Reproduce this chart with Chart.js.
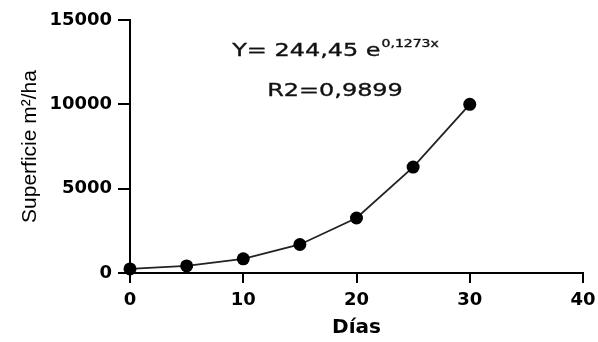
<!DOCTYPE html>
<html>
<head>
<meta charset="utf-8">
<script src="https://cdn.jsdelivr.net/npm/chart.js@4/dist/chart.umd.min.js"></script>
<style>
  html, body { margin: 0; padding: 0; background: #fff; }
  #wrap { width: 598px; height: 342px; }
</style>
</head>
<body>
<div id="wrap"><canvas id="c" width="598" height="342"></canvas></div>
<script>
// Growth of the surface (m²/ha) over days
const dias = [0, 5, 10, 15, 20, 25, 30];
const superficie = [240, 420, 840, 1690, 3260, 6280, 10000];
const xTicks = [0, 10, 20, 30, 40];
const yTicks = [0, 5000, 10000, 15000];
const ecuacion = 'Y= 244,45 e';
const exponente = '0,1273x';
const r2Texto = 'R2=0,9899';

const points = dias.map((d, i) => ({ x: d, y: superficie[i] }));

// Writes a horizontally widened line of text, with a light outline for weight
function wideText(ctx, text, x, y, font, sx) {
  ctx.save();
  ctx.translate(x, y);
  ctx.scale(sx, 1);
  ctx.font = font;
  ctx.fillText(text, 0, 0);
  ctx.strokeText(text, 0, 0);
  ctx.restore();
}

// Fitted-equation annotation in the upper part of the plot
const annotation = {
  id: 'annotation',
  afterDraw(chart) {
    const { ctx, chartArea } = chart;
    const cx = chartArea.left + (chartArea.right - chartArea.left) * 0.4525;
    const sx = 1.33;
    const mainFont = '18px "DejaVu Sans"';
    const supFont = '10px "DejaVu Sans"';
    ctx.save();
    ctx.fillStyle = '#111';
    ctx.strokeStyle = '#111';
    ctx.lineWidth = 0.35;
    ctx.textBaseline = 'alphabetic';
    ctx.textAlign = 'left';

    ctx.font = mainFont;
    const wMain = ctx.measureText(ecuacion).width * sx;
    ctx.font = supFont;
    const wExp = ctx.measureText(exponente).width * 1.4;
    const startX = cx - (wMain + wExp) / 2;

    wideText(ctx, ecuacion, startX, 56, mainFont, sx);
    wideText(ctx, exponente, startX + wMain + 1, 47, supFont, 1.4);

    ctx.font = mainFont;
    const wR2 = ctx.measureText(r2Texto).width * sx;
    wideText(ctx, r2Texto, cx - wR2 / 2, 96, mainFont, sx);

    ctx.restore();
  }
};

new Chart(document.getElementById('c'), {
  type: 'line',
  data: {
    datasets: [{
      data: points,
      borderColor: '#222',
      borderWidth: 1.8,
      pointRadius: 6.5,
      pointHoverRadius: 6.5,
      pointBackgroundColor: '#000',
      pointBorderColor: '#000',
      pointBorderWidth: 0,
      tension: 0,
      clip: false
    }]
  },
  options: {
    responsive: false,
    animation: false,
    layout: { padding: { top: 20, right: 0, left: 0, bottom: 0 } },
    plugins: { legend: { display: false }, tooltip: { enabled: false } },
    scales: {
      x: {
        type: 'linear',
        min: xTicks[0],
        max: xTicks[xTicks.length - 1],
        afterFit(scale) { scale.height = 69; scale.paddingRight = 15; },
        afterBuildTicks(scale) { scale.ticks = xTicks.map(v => ({ value: v })); },
        border: { display: true, color: '#000', width: 2 },
        grid: { drawOnChartArea: false, drawTicks: true, tickLength: 10, color: '#000', lineWidth: 2 },
        ticks: { color: '#000', padding: 7, callback: v => String(v),
                 font: { family: '"DejaVu Sans"', size: 18, weight: 'bold' } },
        title: { display: true, text: 'Días', color: '#000', padding: { top: 0, bottom: 2 },
                 font: { family: '"DejaVu Sans"', size: 20, weight: 'bold' } }
      },
      y: {
        type: 'linear',
        min: yTicks[0],
        max: yTicks[yTicks.length - 1],
        afterFit(scale) { scale.width = 130; },
        afterBuildTicks(scale) { scale.ticks = yTicks.map(v => ({ value: v })); },
        border: { display: true, color: '#000', width: 2 },
        grid: { drawOnChartArea: false, drawTicks: true, tickLength: 12, color: '#000', lineWidth: 2 },
        ticks: { color: '#000', padding: 6, callback: v => String(v),
                 font: { family: '"DejaVu Sans"', size: 18, weight: 'bold' } },
        title: { display: true, text: 'Superficie m²/ha', color: '#000', padding: { top: 18, bottom: 0 },
                 font: { family: '"Liberation Sans"', size: 21 } }
      }
    }
  },
  plugins: [annotation]
});
</script>
</body>
</html>
